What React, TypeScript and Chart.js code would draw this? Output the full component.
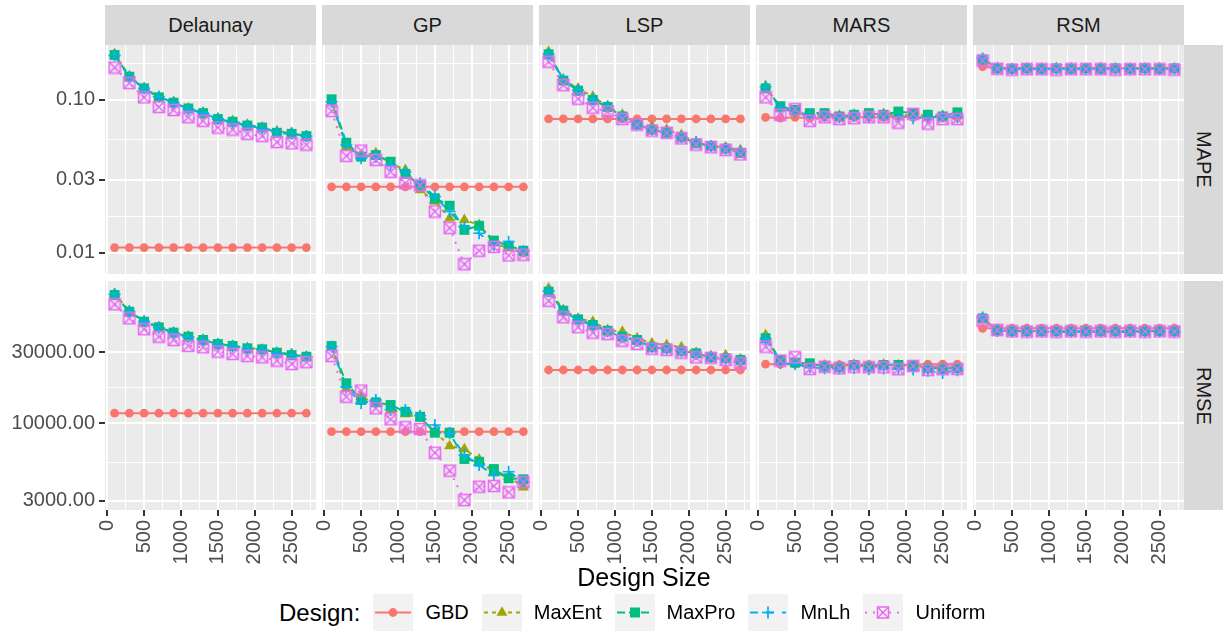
import React, { useEffect, useRef } from 'react';
import { Chart, registerables } from 'chart.js';
Chart.register(...registerables);

const FONT = "'Liberation Sans', Arial, Helvetica, sans-serif";

// ---------- categories & ticks ----------
const designSizes = [100, 300, 500, 700, 900, 1100, 1300, 1500, 1700, 1900, 2100, 2300, 2500, 2700];
const designs = ['GBD', 'MaxEnt', 'MaxPro', 'MnLh', 'Uniform'];
const models = ['Delaunay', 'GP', 'LSP', 'MARS', 'RSM'];
const metrics = ['MAPE', 'RMSE'];
const xTicks = [0, 500, 1000, 1500, 2000, 2500];
const mapeTicks = [0.01, 0.03, 0.1];
const rmseTicks = [3000, 10000, 30000];
const designColors = ['#F8766D', '#A3A500', '#00BF7D', '#00B0F6', '#E76BF3'];

// ---------- MAPE ----------
const mapeDelaunayGBD = [0.0108, 0.0108, 0.0108, 0.0108, 0.0108, 0.0108, 0.0108, 0.0108, 0.0108, 0.0108, 0.0108, 0.0108, 0.0108, 0.0108];
const mapeDelaunayMaxEnt = [0.2, 0.143, 0.12, 0.105, 0.097, 0.088, 0.083, 0.076, 0.073, 0.069, 0.066, 0.062, 0.061, 0.058];
const mapeDelaunayMaxPro = [0.197, 0.142, 0.119, 0.104, 0.096, 0.088, 0.082, 0.075, 0.072, 0.068, 0.066, 0.061, 0.06, 0.058];
const mapeDelaunayMnLh = [0.196, 0.141, 0.119, 0.105, 0.096, 0.087, 0.082, 0.075, 0.071, 0.068, 0.065, 0.062, 0.06, 0.058];
const mapeDelaunayUniform = [0.163, 0.129, 0.104, 0.09, 0.086, 0.077, 0.073, 0.066, 0.064, 0.06, 0.058, 0.053, 0.052, 0.051];

const mapeGPGBD = [0.027, 0.027, 0.027, 0.027, 0.027, 0.027, 0.027, 0.027, 0.027, 0.027, 0.027, 0.027, 0.027, 0.027];
const mapeGPMaxEnt = [0.0975, 0.0494, 0.0436, 0.0448, 0.0385, 0.0348, 0.0257, 0.0216, 0.0168, 0.0164, 0.0152, 0.0115, 0.0107, 0.0099];
const mapeGPMaxPro = [0.101, 0.0525, 0.0425, 0.0436, 0.0394, 0.0328, 0.0276, 0.0227, 0.0203, 0.0141, 0.015, 0.012, 0.0111, 0.0103];
const mapeGPMnLh = [0.0975, 0.0507, 0.0415, 0.0425, 0.0375, 0.0339, 0.0285, 0.0233, 0.0186, 0.0148, 0.0134, 0.0112, 0.0118, 0.0102];
const mapeGPUniform = [0.0847, 0.043, 0.0466, 0.0405, 0.0339, 0.0285, 0.0276, 0.0186, 0.0145, 0.0084, 0.0103, 0.0109, 0.0096, 0.0097];

const mapeLSPGBD = [0.0751, 0.0751, 0.0751, 0.0751, 0.0751, 0.0751, 0.0751, 0.0751, 0.0751, 0.0751, 0.0751, 0.0751, 0.0751, 0.0751];
const mapeLSPMaxEnt = [0.207, 0.135, 0.119, 0.105, 0.091, 0.08, 0.07, 0.067, 0.064, 0.059, 0.053, 0.05, 0.049, 0.047];
const mapeLSPMaxPro = [0.199, 0.134, 0.115, 0.1, 0.09, 0.078, 0.069, 0.064, 0.061, 0.057, 0.052, 0.05, 0.048, 0.045];
const mapeLSPMnLh = [0.2, 0.136, 0.116, 0.101, 0.091, 0.078, 0.069, 0.064, 0.062, 0.057, 0.053, 0.05, 0.048, 0.046];
const mapeLSPUniform = [0.178, 0.125, 0.102, 0.089, 0.084, 0.075, 0.069, 0.063, 0.061, 0.056, 0.051, 0.049, 0.047, 0.044];

const mapeMARSGBD = [0.077, 0.076, 0.077, 0.076, 0.077, 0.077, 0.077, 0.077, 0.077, 0.078, 0.077, 0.077, 0.077, 0.077];
const mapeMARSMaxEnt = [0.123, 0.088, 0.083, 0.08, 0.081, 0.079, 0.08, 0.081, 0.081, 0.079, 0.08, 0.079, 0.079, 0.079];
const mapeMARSMaxPro = [0.119, 0.091, 0.086, 0.082, 0.082, 0.078, 0.08, 0.082, 0.08, 0.084, 0.082, 0.08, 0.078, 0.083];
const mapeMARSMnLh = [0.122, 0.089, 0.084, 0.079, 0.079, 0.077, 0.079, 0.077, 0.079, 0.078, 0.076, 0.077, 0.078, 0.077];
const mapeMARSUniform = [0.104, 0.08, 0.087, 0.073, 0.077, 0.075, 0.076, 0.077, 0.077, 0.071, 0.081, 0.07, 0.075, 0.075];

const mapeRSMGBD = [0.165, 0.161, 0.161, 0.161, 0.161, 0.161, 0.161, 0.161, 0.161, 0.161, 0.161, 0.161, 0.161, 0.161];
const mapeRSMMaxEnt = [0.186, 0.162, 0.161, 0.161, 0.161, 0.162, 0.161, 0.161, 0.162, 0.161, 0.161, 0.161, 0.162, 0.161];
const mapeRSMMaxPro = [0.184, 0.161, 0.16, 0.161, 0.16, 0.161, 0.16, 0.161, 0.16, 0.161, 0.16, 0.161, 0.16, 0.161];
const mapeRSMMnLh = [0.187, 0.161, 0.159, 0.16, 0.159, 0.16, 0.16, 0.159, 0.16, 0.16, 0.159, 0.16, 0.159, 0.16];
const mapeRSMUniform = [0.181, 0.16, 0.158, 0.159, 0.159, 0.158, 0.159, 0.159, 0.159, 0.158, 0.159, 0.159, 0.159, 0.158];

// ---------- RMSE ----------
const rmseDelaunayGBD = [11700, 11700, 11700, 11700, 11700, 11700, 11700, 11700, 11700, 11700, 11700, 11700, 11700, 11700];
const rmseDelaunayMaxEnt = [74500, 57000, 48800, 44600, 41000, 38500, 36600, 34400, 33300, 32200, 31500, 30000, 29300, 28200];
const rmseDelaunayMaxPro = [73100, 56400, 48300, 44300, 40800, 38300, 36400, 34200, 33200, 32000, 31500, 29900, 28800, 28100];
const rmseDelaunayMnLh = [73800, 56800, 48600, 44000, 40500, 38000, 36200, 34000, 33000, 31800, 31200, 29700, 28900, 28000];
const rmseDelaunayUniform = [63300, 50900, 43000, 38300, 36400, 33200, 32500, 30400, 29300, 28400, 27800, 26400, 25100, 25800];

const rmseGPGBD = [8780, 8780, 8780, 8780, 8780, 8780, 8780, 8780, 8780, 8780, 8780, 8780, 8780, 8780];
const rmseGPMaxEnt = [32500, 17200, 15100, 13600, 12300, 11550, 10800, 8780, 7030, 6710, 5720, 4610, 4370, 3710];
const rmseGPMaxPro = [33150, 18600, 14350, 13850, 13280, 11970, 11080, 8640, 8640, 5750, 5510, 4920, 4260, 4200];
const rmseGPMnLh = [32800, 17500, 13640, 14350, 12290, 12290, 11250, 9740, 8560, 6120, 5240, 4490, 4720, 4040];
const rmseGPUniform = [28400, 15100, 16600, 12600, 10640, 9400, 9150, 6340, 4800, 3040, 3740, 3780, 3430, 4010];

const rmseLSPGBD = [22850, 22850, 22850, 22850, 22850, 22850, 22850, 22850, 22850, 22850, 22850, 22850, 22850, 22850];
const rmseLSPMaxEnt = [81100, 57900, 50900, 48300, 42500, 41400, 37400, 34600, 33700, 32500, 29900, 28400, 28800, 27000];
const rmseLSPMaxPro = [76950, 57300, 50150, 45900, 42000, 38300, 36400, 32500, 32000, 30700, 29600, 27800, 27400, 26700];
const rmseLSPMnLh = [77500, 56800, 49700, 45500, 41600, 38000, 36000, 32800, 31600, 30400, 29300, 27900, 27200, 26500];
const rmseLSPUniform = [66900, 51700, 44300, 40750, 39900, 36000, 34200, 31800, 31200, 29900, 27800, 27650, 26700, 25350];

const rmseMARSGBD = [25000, 25000, 25000, 24800, 24800, 24800, 25000, 24800, 24800, 24800, 24800, 25000, 25000, 25000];
const rmseMARSMaxEnt = [39300, 26000, 25300, 24900, 24500, 24300, 24800, 24500, 24900, 24600, 24300, 24000, 24200, 23800];
const rmseMARSMaxPro = [37400, 26700, 25600, 25350, 24050, 23830, 24700, 24050, 24700, 24700, 24300, 23460, 23460, 23460];
const rmseMARSMnLh = [37000, 25500, 25000, 23800, 23500, 23300, 23600, 23100, 23400, 23200, 23000, 22600, 21800, 22800];
const rmseMARSUniform = [32800, 26400, 27830, 23210, 24050, 23460, 24050, 23830, 23830, 23100, 24310, 22850, 23100, 23210];

const rmseRSMGBD = [43600, 43700, 43700, 43700, 43700, 43700, 43700, 43700, 43700, 43700, 43700, 43700, 43700, 43700];
const rmseRSMMaxEnt = [51200, 42200, 41900, 41800, 41900, 41800, 41900, 41800, 41800, 41900, 41800, 41900, 41800, 41800];
const rmseRSMMaxPro = [50900, 42000, 41800, 41700, 41800, 41700, 41800, 41700, 41800, 41700, 41800, 41700, 41800, 41700];
const rmseRSMMnLh = [51600, 41800, 41300, 41200, 41400, 41200, 41300, 41200, 41300, 41200, 41300, 41200, 41300, 41200];
const rmseRSMUniform = [49000, 42400, 41600, 41500, 41600, 41500, 41600, 41500, 41600, 41500, 41600, 41500, 41600, 41500];

const seriesTable: Record<string, Record<string, number[][]>> = {
  MAPE: {
    Delaunay: [mapeDelaunayGBD, mapeDelaunayMaxEnt, mapeDelaunayMaxPro, mapeDelaunayMnLh, mapeDelaunayUniform],
    GP: [mapeGPGBD, mapeGPMaxEnt, mapeGPMaxPro, mapeGPMnLh, mapeGPUniform],
    LSP: [mapeLSPGBD, mapeLSPMaxEnt, mapeLSPMaxPro, mapeLSPMnLh, mapeLSPUniform],
    MARS: [mapeMARSGBD, mapeMARSMaxEnt, mapeMARSMaxPro, mapeMARSMnLh, mapeMARSUniform],
    RSM: [mapeRSMGBD, mapeRSMMaxEnt, mapeRSMMaxPro, mapeRSMMnLh, mapeRSMUniform],
  },
  RMSE: {
    Delaunay: [rmseDelaunayGBD, rmseDelaunayMaxEnt, rmseDelaunayMaxPro, rmseDelaunayMnLh, rmseDelaunayUniform],
    GP: [rmseGPGBD, rmseGPMaxEnt, rmseGPMaxPro, rmseGPMnLh, rmseGPUniform],
    LSP: [rmseLSPGBD, rmseLSPMaxEnt, rmseLSPMaxPro, rmseLSPMnLh, rmseLSPUniform],
    MARS: [rmseMARSGBD, rmseMARSMaxEnt, rmseMARSMaxPro, rmseMARSMnLh, rmseMARSUniform],
    RSM: [rmseRSMGBD, rmseRSMMaxEnt, rmseRSMMaxPro, rmseRSMMnLh, rmseRSMUniform],
  },
};

// ---------- layout ----------
const PANEL_LEFT = [105, 322, 539, 756, 973];
const PANEL_W = 211;
const ROW_TOP = [45, 281];
const PANEL_H = 229;
const X_RANGE = [-30, 2830];
const Y_RANGE: Record<string, number[]> = { MAPE: [0.00725, 0.229], RMSE: [2608, 90800] };
const Y_TICKS: Record<string, number[]> = { MAPE: mapeTicks, RMSE: rmseTicks };

const lineDashes = [[], [4, 4], [8, 4], [8, 8], [2, 6]];
const pointStyles = ['circle', 'triangle', 'rect', 'cross', 'img'];
const pointRadii = [4.4, 6.4, 7, 6, 7];

function makeSquareCross(color: string) {
  const c = document.createElement('canvas');
  c.width = 14;
  c.height = 14;
  const g = c.getContext('2d')!;
  g.strokeStyle = color;
  g.lineWidth = 1.6;
  g.strokeRect(1.5, 1.5, 11, 11);
  g.beginPath();
  g.moveTo(1.5, 1.5);
  g.lineTo(12.5, 12.5);
  g.moveTo(12.5, 1.5);
  g.lineTo(1.5, 12.5);
  g.stroke();
  return c;
}

const panelBg = {
  id: 'panelBg',
  beforeDraw(chart: any) {
    const { ctx, chartArea: a } = chart;
    ctx.save();
    ctx.fillStyle = '#EBEBEB';
    ctx.fillRect(a.left, a.top, a.right - a.left, a.bottom - a.top);
    ctx.restore();
  },
};

function xTickObjects() {
  const step = xTicks[1] - xTicks[0];
  const out: any[] = [];
  xTicks.forEach((v) => {
    out.push({ value: v, minor: false });
    out.push({ value: v + step / 2, minor: true });
  });
  return out.filter((t) => t.value >= X_RANGE[0] && t.value <= X_RANGE[1]).sort((a, b) => a.value - b.value);
}

function yTickObjects(metric: string) {
  const m = Y_TICKS[metric];
  const [lo, hi] = Y_RANGE[metric];
  const ext = [m[1] / 10, ...m, m[1] * 10];
  const out: any[] = m.map((v) => ({ value: v, minor: false }));
  for (let i = 0; i < ext.length - 1; i++) out.push({ value: Math.sqrt(ext[i] * ext[i + 1]), minor: true });
  return out.filter((t) => t.value >= lo && t.value <= hi).sort((a, b) => a.value - b.value);
}

function Panel({ row, col }: { row: number; col: number }) {
  const ref = useRef<HTMLCanvasElement>(null);
  const metric = metrics[row];
  const model = models[col];
  const leftMargin = col === 0 ? PANEL_LEFT[0] : 8;
  const bottomMargin = row === 1 ? 62 : 0;
  const left = PANEL_LEFT[col] - leftMargin;
  const top = ROW_TOP[row];
  const width = PANEL_W + leftMargin;
  const height = PANEL_H + bottomMargin;
  const showY = col === 0;
  const showX = row === 1;

  useEffect(() => {
    if (!ref.current) return;
    const series = seriesTable[metric][model];
    const uniformImg = makeSquareCross(designColors[4]);
    const datasets: any[] = [];
    designs.forEach((d, i) => {
      const data = designSizes.map((x, k) => ({ x, y: series[i][k] }));
      datasets.push({
        label: d + ' line',
        data,
        borderColor: designColors[i],
        borderWidth: 2,
        borderDash: lineDashes[i],
        pointRadius: 0,
        fill: false,
        tension: 0,
        order: 100 - i,
      });
      datasets.push({
        label: d,
        data,
        showLine: false,
        pointStyle: pointStyles[i] === 'img' ? uniformImg : pointStyles[i],
        pointRadius: pointRadii[i],
        pointBackgroundColor: designColors[i],
        pointBorderColor: designColors[i],
        pointBorderWidth: i === 3 ? 1.7 : 0,
        order: 50 - i,
      });
    });

    const gridCommon = (showTicks: boolean) => ({
      display: true,
      drawOnChartArea: true,
      drawTicks: showTicks,
      tickLength: 6,
      color: '#FFFFFF',
      lineWidth: (c: any) => (c.tick && c.tick.minor ? 1 : 2),
      tickColor: (c: any) => (c.tick && !c.tick.minor ? '#333333' : 'rgba(0,0,0,0)'),
      tickWidth: 2,
    });

    const chart = new Chart(ref.current, {
      type: 'line',
      data: { datasets },
      options: {
        animation: false,
        responsive: false,
        events: [],
        layout: { padding: 0, autoPadding: false },
        plugins: { legend: { display: false }, tooltip: { enabled: false }, title: { display: false } },
        scales: {
          x: {
            type: 'linear',
            min: X_RANGE[0],
            max: X_RANGE[1],
            border: { display: false },
            grid: gridCommon(showX) as any,
            ticks: {
              display: showX,
              autoSkip: false,
              minRotation: 90,
              maxRotation: 90,
              padding: 4,
              color: '#4D4D4D',
              font: { family: FONT, size: 20 },
              callback: (v: any, i: number, ticks: any[]) => (ticks[i] && ticks[i].minor ? '' : String(v)),
            },
            afterBuildTicks: (s: any) => {
              s.ticks = xTickObjects();
            },
            afterFit: (s: any) => {
              s.height = bottomMargin;
              s.paddingLeft = 0;
              s.paddingRight = 0;
            },
          },
          y: {
            type: 'logarithmic',
            min: Y_RANGE[metric][0],
            max: Y_RANGE[metric][1],
            border: { display: false },
            grid: gridCommon(showY) as any,
            ticks: {
              display: showY,
              autoSkip: false,
              padding: 4,
              color: '#4D4D4D',
              font: { family: FONT, size: 20 },
              callback: (v: any, i: number, ticks: any[]) => (ticks[i] && ticks[i].minor ? '' : Number(v).toFixed(2)),
            },
            afterBuildTicks: (s: any) => {
              s.ticks = yTickObjects(metric);
            },
            afterFit: (s: any) => {
              s.width = leftMargin;
              s.paddingTop = 0;
              s.paddingBottom = 0;
            },
          },
        },
      } as any,
      plugins: [panelBg],
    });
    return () => chart.destroy();
  }, []);

  return (
    <canvas
      ref={ref}
      width={width}
      height={height}
      style={{ position: 'absolute', left, top, width, height }}
    />
  );
}

function KeyGlyph({ i }: { i: number }) {
  const c = designColors[i];
  const dash = lineDashes[i].length ? lineDashes[i].join(' ') : undefined;
  let marker: any = null;
  if (i === 0) marker = <circle cx={20} cy={18.5} r={4.4} fill={c} />;
  if (i === 1) marker = <polygon points="20,12.3 25.5,21.7 14.5,21.7" fill={c} />;
  if (i === 2) marker = <rect x={15} y={13.5} width={10} height={10} fill={c} />;
  if (i === 3)
    marker = (
      <g stroke={c} strokeWidth={1.7}>
        <line x1={14} y1={18.5} x2={26} y2={18.5} />
        <line x1={20} y1={12.5} x2={20} y2={24.5} />
      </g>
    );
  if (i === 4)
    marker = (
      <g stroke={c} strokeWidth={1.5} fill="none">
        <rect x={14.5} y={13} width={11} height={11} />
        <line x1={14.5} y1={13} x2={25.5} y2={24} />
        <line x1={25.5} y1={13} x2={14.5} y2={24} />
      </g>
    );
  return (
    <svg width={40} height={37} style={{ display: 'block', flex: 'none' }}>
      <rect x={0} y={0} width={40} height={37} fill="#F2F2F2" />
      <line x1={2} y1={18.5} x2={38} y2={18.5} stroke={c} strokeWidth={2} strokeDasharray={dash} />
      {marker}
    </svg>
  );
}

export default function App() {
  const panels: any[] = [];
  for (let r = 0; r < 2; r++) for (let c = 0; c < 5; c++) panels.push(<Panel key={r + '-' + c} row={r} col={c} />);
  return (
    <div style={{ position: 'absolute', left: 0, top: 0, width: 1226, height: 631, background: '#FFFFFF', overflow: 'hidden', fontFamily: FONT }}>
      {models.map((m, c) => (
        <div
          key={m}
          style={{
            position: 'absolute',
            left: PANEL_LEFT[c],
            top: 5,
            width: PANEL_W,
            height: 40,
            background: '#D9D9D9',
            color: '#1A1A1A',
            fontSize: 20,
            display: 'flex',
            alignItems: 'center',
            justifyContent: 'center',
          }}
        >
          {m}
        </div>
      ))}
      {metrics.map((m, r) => (
        <div
          key={m}
          style={{
            position: 'absolute',
            left: 1183,
            top: ROW_TOP[r],
            width: 40,
            height: PANEL_H,
            background: '#D9D9D9',
            color: '#1A1A1A',
            fontSize: 20,
            display: 'flex',
            alignItems: 'center',
            justifyContent: 'center',
          }}
        >
          <span style={{ writingMode: 'vertical-rl' as any }}>{m}</span>
        </div>
      ))}
      {panels}
      <div style={{ position: 'absolute', left: 105, width: 1078, top: 565, textAlign: 'center', fontSize: 25, lineHeight: '25px', color: '#000' }}>
        Design Size
      </div>
      <div style={{ position: 'absolute', left: 279, top: 594, height: 37, display: 'flex', alignItems: 'center', color: '#000' }}>
        <span style={{ fontSize: 24, marginRight: 13 }}>Design:</span>
        {designs.map((d, i) => (
          <React.Fragment key={d}>
            <KeyGlyph i={i} />
            <span style={{ fontSize: 20, marginLeft: 12, marginRight: 13 }}>{d}</span>
          </React.Fragment>
        ))}
      </div>
    </div>
  );
}
